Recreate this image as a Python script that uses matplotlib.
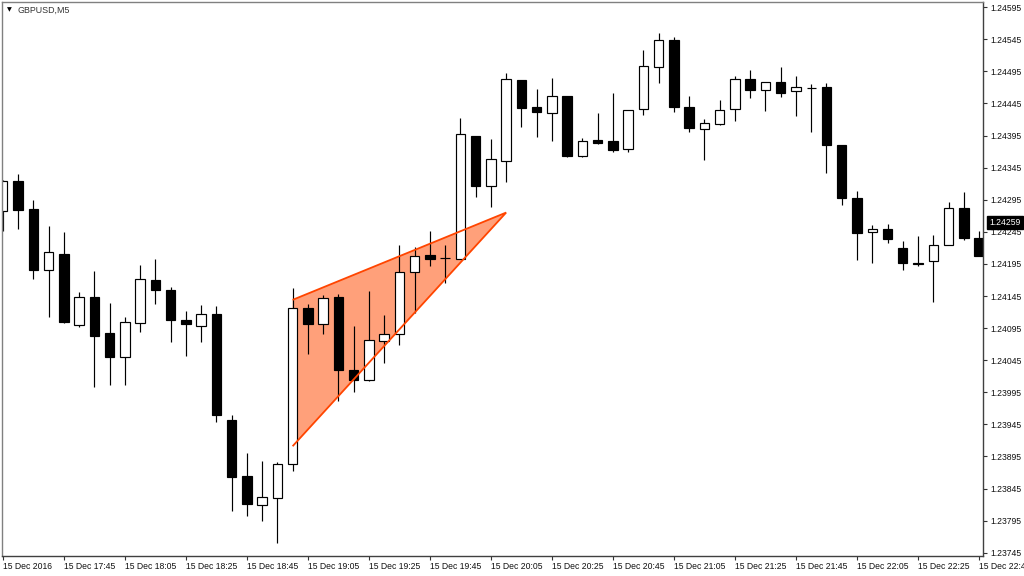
import matplotlib
matplotlib.use("Agg")
import matplotlib.pyplot as plt
from matplotlib.patches import Rectangle, Polygon
import matplotlib.transforms as mtransforms

plt.rcParams['font.family'] = ['Liberation Sans', 'DejaVu Sans']

symbol = "GBPUSD,M5"

opens = [1.24277, 1.24324, 1.24280, 1.24186, 1.24211, 1.24100, 1.24143, 1.24088, 1.24050, 1.24103,
         1.24170, 1.24154, 1.24108, 1.24098, 1.24117, 1.23952, 1.23864, 1.23820, 1.23830, 1.23884,
         1.24127, 1.24102, 1.24143, 1.24029, 1.24014, 1.24075, 1.24086, 1.24182, 1.24209, 1.24204,
         1.24202, 1.24395, 1.24317, 1.24356, 1.24481, 1.24440, 1.24430, 1.24456, 1.24363, 1.24388,
         1.24386, 1.24374, 1.24436, 1.24502, 1.24544, 1.24440, 1.24405, 1.24413, 1.24436, 1.24483,
         1.24466, 1.24478, 1.24464, 1.24469, 1.24470, 1.24381, 1.24298, 1.24245, 1.24249, 1.24220,
         1.24197, 1.24200, 1.24225, 1.24282, 1.24236]
highs = [1.24325, 1.24335, 1.24294, 1.24254, 1.24245, 1.24152, 1.24184, 1.24134, 1.24112, 1.24193,
         1.24202, 1.24159, 1.24122, 1.24131, 1.24129, 1.23960, 1.23900, 1.23888, 1.23886, 1.24157,
         1.24133, 1.24147, 1.24148, 1.24099, 1.24153, 1.24116, 1.24225, 1.24221, 1.24247, 1.24225,
         1.24423, 1.24395, 1.24389, 1.24492, 1.24482, 1.24467, 1.24485, 1.24456, 1.24391, 1.24430,
         1.24461, 1.24434, 1.24528, 1.24554, 1.24549, 1.24456, 1.24421, 1.24450, 1.24487, 1.24497,
         1.24478, 1.24502, 1.24487, 1.24475, 1.24477, 1.24381, 1.24309, 1.24256, 1.24257, 1.24231,
         1.24238, 1.24240, 1.24291, 1.24307, 1.24247]
lows = [1.24247, 1.24250, 1.24172, 1.24112, 1.24103, 1.24096, 1.24003, 1.24006, 1.24006, 1.24089,
        1.24132, 1.24074, 1.24051, 1.24073, 1.23948, 1.23810, 1.23803, 1.23795, 1.23760, 1.23873,
        1.24055, 1.24086, 1.23981, 1.23995, 1.24013, 1.24040, 1.24069, 1.24119, 1.24191, 1.24166,
        1.24202, 1.24300, 1.24283, 1.24323, 1.24409, 1.24393, 1.24387, 1.24362, 1.24362, 1.24382,
        1.24370, 1.24369, 1.24427, 1.24477, 1.24432, 1.24400, 1.24357, 1.24412, 1.24418, 1.24453,
        1.24433, 1.24455, 1.24426, 1.24400, 1.24336, 1.24287, 1.24201, 1.24197, 1.24228, 1.24186,
        1.24191, 1.24136, 1.24224, 1.24233, 1.24207]
closes = [1.24324, 1.24279, 1.24186, 1.24214, 1.24104, 1.24144, 1.24083, 1.24050, 1.24104, 1.24172,
          1.24155, 1.24108, 1.24102, 1.24117, 1.23960, 1.23863, 1.23821, 1.23832, 1.23884, 1.24127,
          1.24102, 1.24142, 1.24029, 1.24014, 1.24076, 1.24086, 1.24182, 1.24208, 1.24203, 1.24204,
          1.24397, 1.24317, 1.24358, 1.24483, 1.24438, 1.24431, 1.24456, 1.24363, 1.24387, 1.24384,
          1.24373, 1.24434, 1.24504, 1.24544, 1.24439, 1.24407, 1.24415, 1.24434, 1.24483, 1.24466,
          1.24478, 1.24462, 1.24470, 1.24469, 1.24381, 1.24298, 1.24243, 1.24249, 1.24234, 1.24197,
          1.24195, 1.24224, 1.24282, 1.24235, 1.24208]

time_labels = ["15 Dec 2016", "15 Dec 17:45", "15 Dec 18:05", "15 Dec 18:25", "15 Dec 18:45",
               "15 Dec 19:05", "15 Dec 19:25", "15 Dec 19:45", "15 Dec 20:05", "15 Dec 20:25",
               "15 Dec 20:45", "15 Dec 21:05", "15 Dec 21:25", "15 Dec 21:45", "15 Dec 22:05",
               "15 Dec 22:25", "15 Dec 22:45"]
label_step = 4  # one label every 4 bars (20 minutes)

price_ticks = ["1.23745", "1.23795", "1.23845", "1.23895", "1.23945", "1.23995", "1.24045",
               "1.24095", "1.24145", "1.24195", "1.24245", "1.24295", "1.24345", "1.24395",
               "1.24445", "1.24495", "1.24545", "1.24595"]

last_price = 1.24259

# rising wedge / triangle drawn on chart (upper-left, apex, lower-left)
tri_bars = [19, 33, 19]
tri_prices = [1.24139, 1.24275, 1.23911]

fig = plt.figure(figsize=(10.24, 5.76), dpi=100)
fig.patch.set_facecolor('white')
ax = fig.add_axes([2 / 1024, 20 / 576, 981 / 1024, 554 / 576])
ax.set_facecolor('white')

# triangle fill (behind bars)
ax.add_patch(Polygon(list(zip(tri_bars, tri_prices)), closed=True,
                     facecolor='#FFA07A', edgecolor='none', zorder=0.5))

body_w = 0.62
for i, (o, h, l, c) in enumerate(zip(opens, highs, lows, closes)):
    ax.vlines(i, l, h, color='black', lw=0.85, zorder=1)
    bull = c > o
    bottom = min(o, c)
    height = abs(c - o)
    ax.add_patch(Rectangle((i - body_w / 2, bottom), body_w, height,
                           facecolor='white' if bull else 'black',
                           edgecolor='black', lw=0.85, zorder=2))

# triangle outline: the two converging sides
ax.plot(tri_bars, tri_prices, color='#FF4500', lw=1.3, zorder=3,
        solid_joinstyle='miter', solid_capstyle='butt')

ax.set_xlim(-0.05, 64.26)
ax.set_ylim(1.23740, 1.24603)

# x axis
xt = [k * label_step for k in range(len(time_labels))]
ax.set_xticks(xt)
ax.set_xticklabels(time_labels, fontsize=6.2, ha='left', color='#111111')
ax.tick_params(axis='x', direction='out', length=3, width=0.8, pad=1.5, color='#333333')

# y axis on right
ax.yaxis.tick_right()
ax.set_yticks([float(t) for t in price_ticks])
ax.set_yticklabels(price_ticks, fontsize=6.2, color='#111111')
ax.tick_params(axis='y', direction='out', length=3, width=0.8, pad=2, color='#333333')

for side in ['left', 'top']:
    ax.spines[side].set_color('#808080')
    ax.spines[side].set_linewidth(1.0)
for side in ['right', 'bottom']:
    ax.spines[side].set_color('#404040')
    ax.spines[side].set_linewidth(1.0)

# current price marker
trans = mtransforms.blended_transform_factory(ax.transAxes, ax.transData)
ax.annotate(f"{last_price:.5f}", xy=(1.0, last_price), xycoords=trans,
            xytext=(4.5, 0), textcoords='offset points', fontsize=6.2,
            color='white', va='center', ha='left', annotation_clip=False,
            bbox=dict(boxstyle='square,pad=0.25', facecolor='black', edgecolor='black'),
            zorder=10)

# symbol title
fig.text(9 / 1024, 1 - 10 / 576, "\u25BC", fontsize=4.5, family='DejaVu Sans',
         ha='center', va='center', color='black')
fig.text(17 / 1024, 1 - 10 / 576, symbol, fontsize=6.4, ha='left', va='center',
         color='#333333')

fig.savefig("out.png", dpi=100)
